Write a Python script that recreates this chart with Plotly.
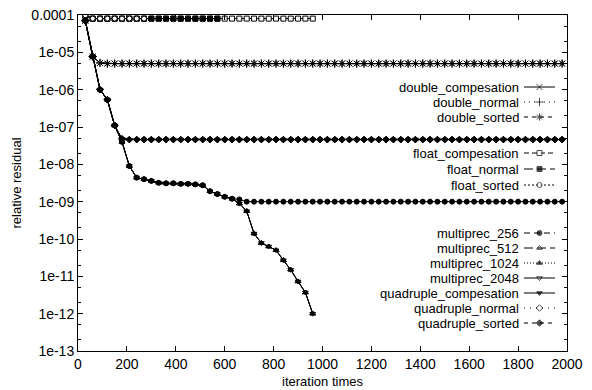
import plotly.graph_objects as go

# ---------------- data ----------------
iterations = [30, 60, 90, 120, 150, 180, 210, 240, 270, 300,
              330, 360, 390, 420, 450, 480, 510, 540, 570, 600,
              630, 660, 690, 720, 750, 780, 810, 840, 870, 900,
              930, 960, 990, 1020, 1050, 1080, 1110, 1140, 1170, 1200,
              1230, 1260, 1290, 1320, 1350, 1380, 1410, 1440, 1470, 1500,
              1530, 1560, 1590, 1620, 1650, 1680, 1710, 1740, 1770, 1800,
              1830, 1860, 1890, 1920, 1950, 1980]

double_residual = [7.0e-5, 7.7e-6, 5.2e-6, 5.0e-6, 5.0e-6, 5.0e-6, 5.0e-6, 5.0e-6, 5.0e-6, 5.0e-6,
                   5.0e-6, 5.0e-6, 5.0e-6, 5.0e-6, 5.0e-6, 5.0e-6, 5.0e-6, 5.0e-6, 5.0e-6, 5.0e-6,
                   5.0e-6, 5.0e-6, 5.0e-6, 5.0e-6, 5.0e-6, 5.0e-6, 5.0e-6, 5.0e-6, 5.0e-6, 5.0e-6,
                   5.0e-6, 5.0e-6, 5.0e-6, 5.0e-6, 5.0e-6, 5.0e-6, 5.0e-6, 5.0e-6, 5.0e-6, 5.0e-6,
                   5.0e-6, 5.0e-6, 5.0e-6, 5.0e-6, 5.0e-6, 5.0e-6, 5.0e-6, 5.0e-6, 5.0e-6, 5.0e-6,
                   5.0e-6, 5.0e-6, 5.0e-6, 5.0e-6, 5.0e-6, 5.0e-6, 5.0e-6, 5.0e-6, 5.0e-6, 5.0e-6,
                   5.0e-6, 5.0e-6, 5.0e-6, 5.0e-6, 5.0e-6, 5.0e-6]

float_compesation_residual = [9.8e-5, 8.0e-5, 8.0e-5, 8.0e-5, 8.0e-5, 8.0e-5, 8.0e-5, 8.0e-5, 8.0e-5, 8.0e-5,
                              8.0e-5, 8.0e-5, 8.0e-5, 8.0e-5, 8.0e-5, 8.0e-5, 8.0e-5, 8.0e-5, 8.0e-5, 8.0e-5,
                              8.0e-5, 8.0e-5, 8.0e-5, 8.0e-5, 8.0e-5, 8.0e-5, 8.0e-5, 8.0e-5, 8.0e-5, 8.0e-5,
                              8.0e-5, 8.0e-5]
float_normal_residual = [9.8e-5, 8.0e-5, 8.0e-5, 8.0e-5, 8.0e-5, 8.0e-5, 8.0e-5, 8.0e-5, 8.0e-5, 8.0e-5,
                         8.0e-5, 8.0e-5, 8.0e-5, 8.0e-5, 8.0e-5, 8.0e-5, 8.0e-5, 8.0e-5, 8.0e-5]
float_sorted_residual = [9.8e-5, 8.0e-5, 8.0e-5, 8.0e-5, 8.0e-5, 8.0e-5, 8.0e-5, 8.0e-5, 8.0e-5]

multiprec_256_residual = [7.0e-5, 7.7e-6, 1.0e-6, 5.4e-7, 1.1e-7, 4.0e-8, 9.0e-9, 4.4e-9, 4.0e-9, 3.6e-9,
                          3.2e-9, 3.1e-9, 3.1e-9, 3.0e-9, 3.0e-9, 2.9e-9, 2.75e-9, 1.9e-9, 1.6e-9, 1.35e-9,
                          1.2e-9, 1.15e-9, 1.0e-9, 1.0e-9, 1.0e-9, 1.0e-9, 1.0e-9, 1.0e-9, 1.0e-9, 1.0e-9,
                          1.0e-9, 1.0e-9, 1.0e-9, 1.0e-9, 1.0e-9, 1.0e-9, 1.0e-9, 1.0e-9, 1.0e-9, 1.0e-9,
                          1.0e-9, 1.0e-9, 1.0e-9, 1.0e-9, 1.0e-9, 1.0e-9, 1.0e-9, 1.0e-9, 1.0e-9, 1.0e-9,
                          1.0e-9, 1.0e-9, 1.0e-9, 1.0e-9, 1.0e-9, 1.0e-9, 1.0e-9, 1.0e-9, 1.0e-9, 1.0e-9,
                          1.0e-9, 1.0e-9, 1.0e-9, 1.0e-9, 1.0e-9, 1.0e-9]

multiprec_high_residual = [7.0e-5, 7.7e-6, 1.0e-6, 5.4e-7, 1.1e-7, 4.0e-8, 9.0e-9, 4.4e-9, 4.0e-9, 3.6e-9,
                           3.2e-9, 3.1e-9, 3.1e-9, 3.0e-9, 3.0e-9, 2.9e-9, 2.75e-9, 1.9e-9, 1.6e-9, 1.35e-9,
                           1.2e-9, 8.9e-10, 5.6e-10, 1.4e-10, 7.8e-11, 6.3e-11, 5.0e-11, 2.7e-11, 1.5e-11, 7.3e-12,
                           3.7e-12, 1.0e-12]

quadruple_residual = [7.0e-5, 7.7e-6, 1.0e-6, 5.4e-7, 1.1e-7, 4.8e-8, 4.6e-8, 4.6e-8, 4.6e-8, 4.6e-8,
                      4.6e-8, 4.6e-8, 4.6e-8, 4.6e-8, 4.6e-8, 4.6e-8, 4.6e-8, 4.6e-8, 4.6e-8, 4.6e-8,
                      4.6e-8, 4.6e-8, 4.6e-8, 4.6e-8, 4.6e-8, 4.6e-8, 4.6e-8, 4.6e-8, 4.6e-8, 4.6e-8,
                      4.6e-8, 4.6e-8, 4.6e-8, 4.6e-8, 4.6e-8, 4.6e-8, 4.6e-8, 4.6e-8, 4.6e-8, 4.6e-8,
                      4.6e-8, 4.6e-8, 4.6e-8, 4.6e-8, 4.6e-8, 4.6e-8, 4.6e-8, 4.6e-8, 4.6e-8, 4.6e-8,
                      4.6e-8, 4.6e-8, 4.6e-8, 4.6e-8, 4.6e-8, 4.6e-8, 4.6e-8, 4.6e-8, 4.6e-8, 4.6e-8,
                      4.6e-8, 4.6e-8, 4.6e-8, 4.6e-8, 4.6e-8, 4.6e-8]

series_names = ["double_compesation", "double_normal", "double_sorted",
                "float_compesation", "float_normal", "float_sorted",
                "multiprec_256", "multiprec_512", "multiprec_1024", "multiprec_2048",
                "quadruple_compesation", "quadruple_normal", "quadruple_sorted"]
series_values = [double_residual, double_residual, double_residual,
                 float_compesation_residual, float_normal_residual, float_sorted_residual,
                 multiprec_256_residual, multiprec_high_residual, multiprec_high_residual, multiprec_high_residual,
                 quadruple_residual, quadruple_residual, quadruple_residual]

y_tick_values = [1e-13, 1e-12, 1e-11, 1e-10, 1e-9, 1e-8, 1e-7, 1e-6, 1e-5, 1e-4]
y_tick_labels = ["1e-13", "1e-12", "1e-11", "1e-10", "1e-09", "1e-08", "1e-07", "1e-06", "1e-05", "0.0001"]
x_tick_values = [0, 200, 400, 600, 800, 1000, 1200, 1400, 1600, 1800, 2000]

# ---------------- styles ----------------
symbols = ["x-thin", "cross-thin", "asterisk",
           "square", "square", "circle",
           "circle", "triangle-up-open", "triangle-up", "triangle-down-open",
           "triangle-down", "diamond-open", "diamond"]
fills = ["black", "black", "black",
         "white", "black", "white",
         "black", "black", "black", "black",
         "black", "black", "black"]
dashes = ["solid", "1px,4px", "4px,4px",
          "5px,3px", "9px,4px", "2px,2px",
          "6px,4px", "9px,4px", "1px,2px", "solid",
          "solid", "1px,5px", "4px,4px"]
sizes = [6, 6, 6, 5, 5, 5, 5, 5, 5, 5, 5, 5, 5]

FONT = "Liberation Sans, Arial, sans-serif"
W, H = 592, 390
PL, PR, PT, PB = 78, 567, 15, 351

fig = go.Figure()
for name, vals, sym, fc, sz in zip(series_names, series_values, symbols, fills, sizes):
    fig.add_trace(go.Scatter(
        x=iterations[:len(vals)], y=vals, mode="lines+markers", name=name,
        line=dict(color="black", width=1),
        marker=dict(symbol=sym, size=sz, color=fc, line=dict(color="black", width=1)),
        showlegend=False, xaxis="x", yaxis="y"))

# ---------------- custom gnuplot-style key ----------------
key_rows_px = [87, 102, 117, 153, 169, 185, 233, 248, 263, 278, 293, 308, 323]
TEXT_RIGHT = 520
SAMPLE_L, SAMPLE_R = 524, 555


def px2x(px):
    return (px - PL) / (PR - PL)


def py2y(py):
    return (PB - py) / (PB - PT)


for name, sym, fc, dash, sz, ry in zip(series_names, symbols, fills, dashes, sizes, key_rows_px):
    fig.add_annotation(x=px2x(TEXT_RIGHT), y=py2y(ry), xref="x2", yref="y2",
                       text=name, showarrow=False, xanchor="right", yanchor="middle",
                       borderpad=0, font=dict(family=FONT, size=13, color="black"))
    fig.add_trace(go.Scatter(
        x=[px2x(SAMPLE_L), px2x((SAMPLE_L + SAMPLE_R) / 2), px2x(SAMPLE_R)],
        y=[py2y(ry)] * 3, mode="lines+markers",
        line=dict(color="black", width=1, dash=dash),
        marker=dict(symbol=sym, size=[0, sz, 0], color=fc, line=dict(color="black", width=1)),
        showlegend=False, xaxis="x2", yaxis="y2", hoverinfo="skip"))

fig.update_layout(
    width=W, height=H,
    margin=dict(l=PL, r=W - PR, t=PT, b=H - PB),
    paper_bgcolor="white", plot_bgcolor="white",
    font=dict(family=FONT, size=14, color="black"),
    showlegend=False,
    xaxis=dict(range=[0, 2000], tickvals=x_tick_values, ticks="inside", ticklen=5,
               tickcolor="black", showline=True, linecolor="black", linewidth=1, mirror="ticks",
               showgrid=False, zeroline=False, automargin=False,
               title=dict(text="iteration times", font=dict(size=13), standoff=6),
               tickfont=dict(size=14)),
    yaxis=dict(type="log", range=[-13, -4], tickvals=y_tick_values, ticktext=y_tick_labels,
               ticks="inside", ticklen=5, tickcolor="black", showline=True, linecolor="black",
               linewidth=1, mirror="ticks", showgrid=False, zeroline=False, automargin=False,
               minor=dict(ticks="inside", ticklen=3, tickcolor="black", dtick="D2", showgrid=False),
               title=dict(text="relative residual", font=dict(size=13), standoff=6),
               tickfont=dict(size=14)),
    xaxis2=dict(overlaying="x", range=[0, 1], visible=False, fixedrange=True),
    yaxis2=dict(overlaying="y", range=[0, 1], visible=False, fixedrange=True),
)

fig.write_html("out.html", config={"displayModeBar": False},
               post_script="document.body.style.margin='0';document.body.style.overflow='hidden';")
